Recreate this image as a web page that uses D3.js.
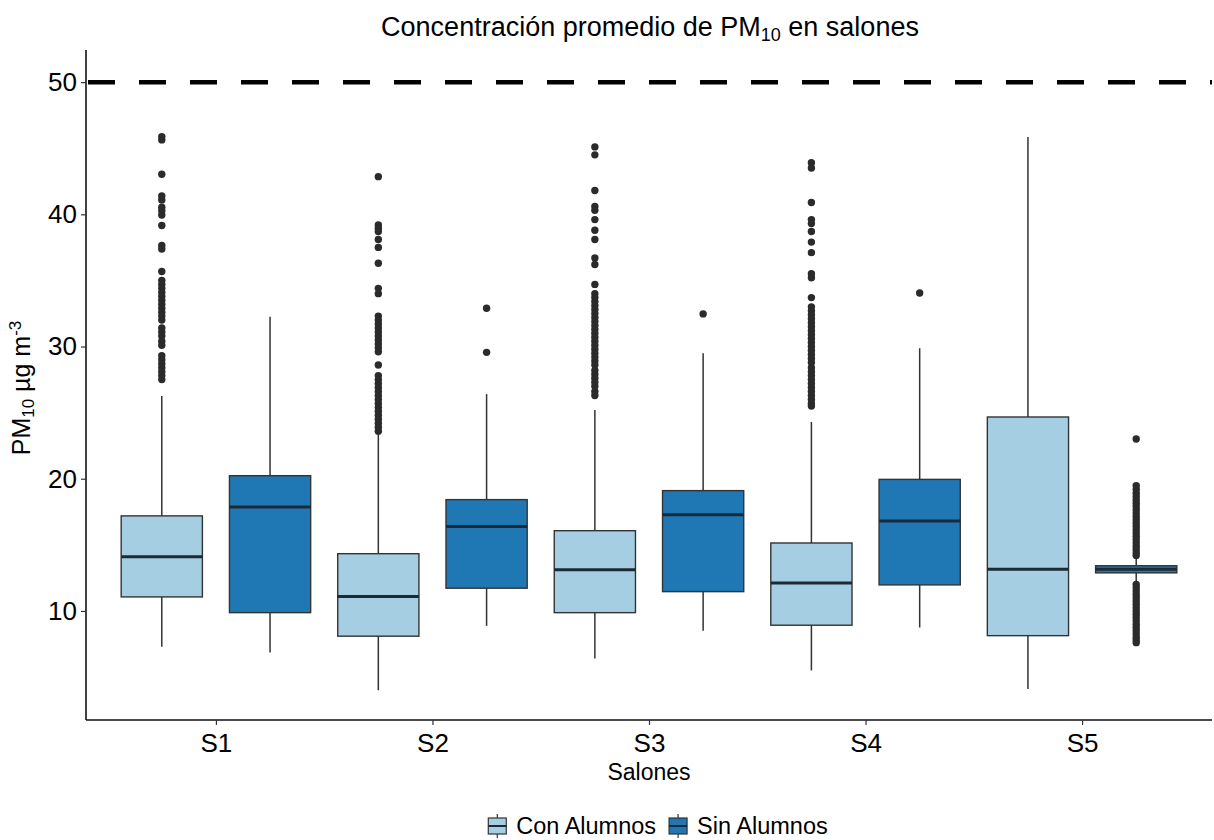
<!DOCTYPE html>
<html>
<head>
<meta charset="utf-8">
<script src="https://cdn.jsdelivr.net/npm/d3@7"></script>
<style>
  body { margin: 0; background: #fff; }
  svg text { font-family: "Liberation Sans", Arial, Helvetica, sans-serif; fill: #000; }
</style>
</head>
<body>
<div id="container"></div>
<script>
// salones y grupos
const salones = ['S1', 'S2', 'S3', 'S4', 'S5'];
const grupos = ['Con Alumnos', 'Sin Alumnos'];
const colores = ['#a6cee3', '#1f78b4'];
const limite = 50;
const yTicks = [10, 20, 30, 40, 50];

// Con Alumnos
const conMin = [7.3, 4.0, 6.4, 5.5, 4.1];
const conQ1 = [11.06, 8.09, 9.87, 8.92, 8.13];
const conMed = [14.1, 11.1, 13.12, 12.12, 13.15];
const conQ3 = [17.19, 14.33, 16.07, 15.14, 24.67];
const conMax = [26.26, 23.5, 25.2, 24.3, 45.85];
const conOut = [
  [45.88, 45.63, 43.03, 41.39, 41.09, 40.53, 40.28, 39.95, 39.15, 37.65, 37.38, 35.67,
   35.0, 34.7, 34.4, 34.1, 33.8, 33.5, 33.2, 32.9, 32.6, 32.3, 32.0, 31.4, 31.1, 30.8,
   30.4, 30.1, 29.3, 29.0, 28.7, 28.4, 28.1, 27.8, 27.5],
  [42.85, 39.2, 38.95, 38.7, 38.1, 37.5, 36.3, 34.4, 34.0, 32.3, 32.0, 31.7, 31.4, 31.1,
   30.8, 30.5, 30.2, 29.9, 29.6, 28.6, 27.8, 27.5, 27.2, 26.9, 26.6, 26.3, 26.0, 25.7,
   25.4, 25.1, 24.8, 24.5, 24.2, 23.9, 23.6],
  [45.1, 44.5, 41.8, 40.6, 40.3, 39.6, 38.8, 38.1, 36.7, 36.2, 34.7, 34.0, 33.7, 33.4,
   33.1, 32.8, 32.5, 32.2, 31.9, 31.6, 31.3, 31.0, 30.7, 30.4, 30.1, 29.8, 29.5, 29.2,
   28.9, 28.6, 28.2, 27.9, 27.6, 27.3, 27.0, 26.6, 26.3],
  [43.9, 43.5, 40.9, 39.6, 39.3, 38.7, 37.9, 37.1, 35.5, 35.2, 33.7, 33.0, 32.7, 32.4,
   32.1, 31.8, 31.5, 31.2, 30.9, 30.6, 30.3, 30.0, 29.7, 29.4, 29.1, 28.8, 28.4, 28.1,
   27.8, 27.5, 27.2, 26.9, 26.6, 26.3, 26.0, 25.7, 25.5],
  []
];

// Sin Alumnos
const sinMin = [6.85, 8.87, 8.51, 8.74, 12.15];
const sinQ1 = [9.87, 11.72, 11.46, 11.97, 12.88];
const sinMed = [17.87, 16.38, 17.28, 16.81, 13.15];
const sinQ3 = [20.23, 18.42, 19.1, 19.95, 13.42];
const sinMax = [32.26, 26.4, 29.5, 29.87, 14.0];
const sinOut = [
  [],
  [32.9, 29.56],
  [32.47],
  [34.05],
  [23.0, 19.48, 19.2, 18.9, 18.65, 18.4, 18.15, 17.9, 17.65, 17.4, 17.15, 16.9, 16.65,
   16.4, 16.15, 15.9, 15.65, 15.4, 15.15, 14.9, 14.65, 14.4, 14.2,
   12.0, 11.75, 11.5, 11.25, 11.0, 10.75, 10.5, 10.25, 10.0, 9.75, 9.5, 9.25, 9.0,
   8.75, 8.5, 8.25, 8.0, 7.8, 7.6]
];

let width = 1214, height = 840;
let margin = { top: 50, right: 2, bottom: 120, left: 86 };

let svg = d3.select('#container').append('svg')
  .attr('width', width)
  .attr('height', height);

let x = d3.scalePoint()
  .domain(salones)
  .range([margin.left, width - margin.right])
  .padding(0.6);

let xSub = d3.scaleBand()
  .domain(grupos)
  .range([-x.step() / 2, x.step() / 2]);

let y = d3.scaleLinear()
  .domain([1.75, 52.43])
  .range([height - margin.bottom, margin.top]);

let color = d3.scaleOrdinal().domain(grupos).range(colores);

const stats = [
  { grupo: grupos[0], min: conMin, q1: conQ1, med: conMed, q3: conQ3, max: conMax, out: conOut },
  { grupo: grupos[1], min: sinMin, q1: sinQ1, med: sinMed, q3: sinQ3, max: sinMax, out: sinOut }
];

let boxes = [];
stats.forEach((s) => {
  salones.forEach((sal, i) => {
    boxes.push({
      salon: sal, grupo: s.grupo,
      min: s.min[i], q1: s.q1[i], med: s.med[i], q3: s.q3[i], max: s.max[i],
      out: s.out[i]
    });
  });
});

let boxW = xSub.bandwidth() * 0.75;
let cx = (d) => x(d.salon) + xSub(d.grupo) + xSub.bandwidth() / 2;

// title
let title = svg.append('text')
  .attr('x', 650)
  .attr('y', 36)
  .attr('text-anchor', 'middle')
  .style('font-size', '27px');
title.append('tspan').text('Concentración promedio de PM');
title.append('tspan').attr('baseline-shift', '-25%').style('font-size', '18px').text('10');
title.append('tspan').text(' en salones');

// axes
let yAxis = svg.append('g')
  .attr('transform', `translate(${margin.left},0)`)
  .call(d3.axisLeft(y).tickValues(yTicks).tickSize(5).tickPadding(4));

let xAxis = svg.append('g')
  .attr('transform', `translate(0,${height - margin.bottom})`)
  .call(d3.axisBottom(x).tickSize(5).tickPadding(9));

[xAxis, yAxis].forEach((g) => {
  g.select('.domain').attr('stroke', '#111').attr('stroke-width', 1.6);
  g.selectAll('.tick line').attr('stroke', '#333').attr('stroke-width', 1.2);
  g.selectAll('.tick text')
    .style('font-size', '26px')
    .style('font-family', '"Liberation Sans", Arial, sans-serif')
    .attr('fill', '#000');
});
yAxis.select('.domain').attr('d', `M0,${y.range()[0]}V${y.range()[1]}`);
xAxis.select('.domain').attr('d', `M${margin.left},0H${width - margin.right}`);

// whiskers
let g = svg.append('g');
g.selectAll('line.whisker')
  .data(boxes)
  .enter()
  .append('line')
  .attr('class', 'whisker')
  .attr('x1', cx).attr('x2', cx)
  .attr('y1', (d) => y(d.min))
  .attr('y2', (d) => y(d.max))
  .attr('stroke', '#333')
  .attr('stroke-width', 1.5);

g.selectAll('rect.box')
  .data(boxes)
  .enter()
  .append('rect')
  .attr('class', 'box')
  .attr('x', (d) => cx(d) - boxW / 2)
  .attr('width', boxW)
  .attr('y', (d) => y(d.q3))
  .attr('height', (d) => y(d.q1) - y(d.q3))
  .attr('fill', (d) => color(d.grupo))
  .attr('stroke', '#333')
  .attr('stroke-width', 1.4);

g.selectAll('line.median')
  .data(boxes)
  .enter()
  .append('line')
  .attr('class', 'median')
  .attr('x1', (d) => cx(d) - boxW / 2)
  .attr('x2', (d) => cx(d) + boxW / 2)
  .attr('y1', (d) => y(d.med))
  .attr('y2', (d) => y(d.med))
  .attr('stroke', '#1c2a36')
  .attr('stroke-width', 3);

let outliers = [];
boxes.forEach((b) => b.out.forEach((v) => outliers.push({ salon: b.salon, grupo: b.grupo, v: v })));

g.selectAll('circle.out')
  .data(outliers)
  .enter()
  .append('circle')
  .attr('class', 'out')
  .attr('cx', cx)
  .attr('cy', (d) => y(d.v))
  .attr('r', 3.7)
  .attr('fill', '#2b2b2b');

// limit line
svg.append('line')
  .attr('x1', margin.left + 2)
  .attr('x2', width - margin.right)
  .attr('y1', y(limite))
  .attr('y2', y(limite))
  .attr('stroke', '#000')
  .attr('stroke-width', 4.5)
  .attr('stroke-dasharray', '27,24');

// axis titles
svg.append('text')
  .attr('x', 649)
  .attr('y', 780)
  .attr('text-anchor', 'middle')
  .style('font-size', '23px')
  .text('Salones');

let yLab = svg.append('text')
  .attr('transform', `translate(30,388) rotate(-90)`)
  .attr('text-anchor', 'middle')
  .style('font-size', '25px');
yLab.append('tspan').text('PM');
yLab.append('tspan').attr('baseline-shift', '-25%').style('font-size', '17px').text('10');
yLab.append('tspan').text(' µg m');
yLab.append('tspan').attr('baseline-shift', '55%').style('font-size', '17px').text('-3');

// legend
let legend = svg.append('g').attr('transform', 'translate(0,826)');
let items = legend.selectAll('g')
  .data(grupos)
  .enter()
  .append('g');

items.append('line')
  .attr('x1', 9).attr('x2', 9)
  .attr('y1', -12).attr('y2', 12)
  .attr('stroke', '#333')
  .attr('stroke-width', 1.2);
items.append('rect')
  .attr('x', 0).attr('y', -8)
  .attr('width', 18).attr('height', 16)
  .attr('fill', (d) => color(d))
  .attr('stroke', '#333')
  .attr('stroke-width', 1.2);
items.append('line')
  .attr('x1', 0).attr('x2', 18)
  .attr('y1', 0).attr('y2', 0)
  .attr('stroke', '#1c2a36')
  .attr('stroke-width', 2);
items.append('text')
  .attr('x', 28)
  .attr('y', 8)
  .style('font-size', '23.5px')
  .text((d) => d);

let offset = 0;
items.each(function() {
  let w = this.getBBox().width;
  d3.select(this).attr('transform', `translate(${offset},0)`);
  offset += w + 13;
});
let total = offset - 13;
legend.attr('transform', `translate(${658 - total / 2},826)`);
</script>
</body>
</html>
